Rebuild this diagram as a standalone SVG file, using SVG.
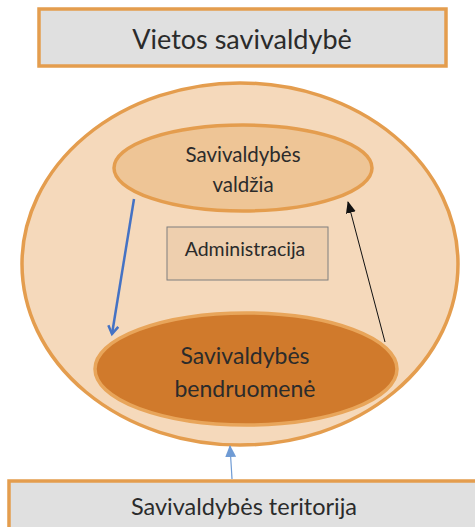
<svg xmlns="http://www.w3.org/2000/svg" width="475" height="527" viewBox="0 0 475 527">
<defs>
<style>
.t{font-family:Lato,"Open Sans","Liberation Sans",sans-serif;fill:#2b2b2b;text-anchor:middle}
.box{fill:#e0e0e0;stroke:#e49d4e;stroke-width:3.5}
</style>
<marker id="open" markerWidth="12" markerHeight="12" refX="9" refY="6" orient="auto" markerUnits="userSpaceOnUse">
<path d="M1,1 L9,6 L1,11" fill="none" stroke="#4472c4" stroke-width="2.5"/>
</marker>
<marker id="blk" markerWidth="12" markerHeight="12" refX="11" refY="6" orient="auto" markerUnits="userSpaceOnUse">
<path d="M0,1 L12,6 L0,11 Z" fill="#111"/>
</marker>
<marker id="lb" markerWidth="12" markerHeight="12" refX="11" refY="6" orient="auto" markerUnits="userSpaceOnUse">
<path d="M0,0.5 L12,6 L0,11.5 Z" fill="#6f9bd4"/>
</marker>
</defs>
<rect width="475" height="527" fill="#fff"/>
<g id="vietos">
<rect class="box" x="39" y="9" width="407" height="57"/>
<text class="t" x="242" y="49" font-size="27">Vietos savivaldybė</text>
</g>
<g id="outer">
<ellipse cx="240" cy="264" rx="218" ry="181" fill="#f5d9bb" stroke="#e49d4e" stroke-width="3.5"/>
</g>
<g id="valdzia">
<ellipse cx="243" cy="168" rx="129" ry="43" fill="#eec596" stroke="#e49d4e" stroke-width="3.5"/>
<text class="t" x="243" y="162" font-size="20.5">Savivaldybės</text>
<text class="t" x="243" y="192" font-size="20.5">valdžia</text>
</g>
<g id="administracija">
<rect x="167" y="227" width="161" height="53" fill="#eecfae" stroke="#7f7f7f" stroke-width="1"/>
<text class="t" x="245" y="256" font-size="19.5">Administracija</text>
</g>
<g id="bendruomene">
<ellipse cx="246" cy="369" rx="151" ry="56" fill="#d07a2c" stroke="#e8a55a" stroke-width="3.5"/>
<text class="t" x="245" y="364" font-size="23">Savivaldybės</text>
<text class="t" x="245" y="397" font-size="23">bendruomenė</text>
</g>
<g id="teritorija">
<rect class="box" x="9" y="481" width="480" height="60"/>
<text class="t" x="244" y="515" font-size="23.5">Savivaldybės teritorija</text>
</g>
<g id="connectors">
<line x1="134" y1="199" x2="112" y2="334" stroke="#4472c4" stroke-width="2.5" marker-end="url(#open)"/>
<line x1="385" y1="342" x2="348" y2="202" stroke="#111" stroke-width="1" marker-end="url(#blk)"/>
<line x1="232" y1="479" x2="230" y2="446" stroke="#6f9bd4" stroke-width="1.2" marker-end="url(#lb)"/>
</g>
</svg>
